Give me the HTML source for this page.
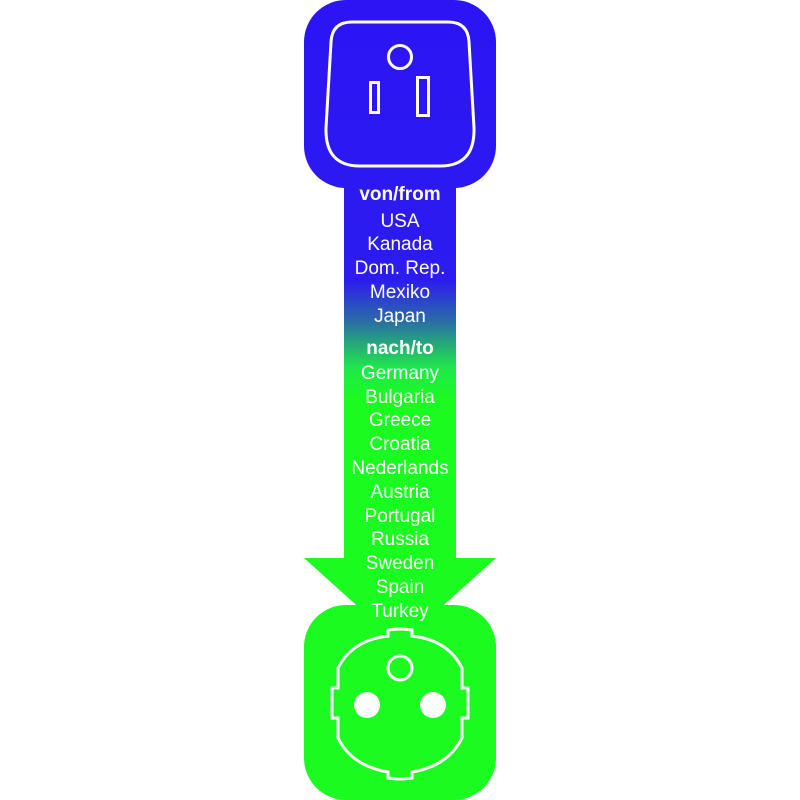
<!DOCTYPE html>
<html><head><meta charset="utf-8"><style>
html,body{margin:0;padding:0;background:#fff;width:800px;height:800px;overflow:hidden}
text{font-family:"Liberation Sans Narrow","Liberation Sans",sans-serif;fill:#fff;font-size:19px}
</style></head><body>
<svg width="800" height="800" viewBox="0 0 800 800" xmlns="http://www.w3.org/2000/svg">
<defs>
<linearGradient id="g" x1="0" y1="0" x2="0" y2="800" gradientUnits="userSpaceOnUse">
<stop offset="0" stop-color="#2c14f4"/>
<stop offset="0.35" stop-color="#2c1cf0"/>
<stop offset="0.40" stop-color="#2a6aa8"/>
<stop offset="0.46" stop-color="#1ee84a"/>
<stop offset="0.5" stop-color="#1afc20"/>
<stop offset="1" stop-color="#1afc20"/>
</linearGradient>
</defs>
<g fill="url(#g)">
<rect x="304" y="0" width="192" height="188" rx="42"/>
<rect x="344" y="150" width="112" height="420"/>
<polygon points="304,558 496,558 436,612 364,612"/>
<rect x="304" y="605" width="192" height="195" rx="42"/>
</g>
<!-- US socket -->
<g fill="none" stroke="#fff" stroke-width="3">
<path d="M352,22 L448,22 Q468,22 469,42 L474,128 Q475,166 440,166 L360,166 Q325,166 326,128 L331,42 Q332,22 352,22 Z"/>
<circle cx="400" cy="57" r="11.5"/>
<rect x="370.5" y="82.5" width="8" height="30"/>
<rect x="417.5" y="77.5" width="11" height="38"/>
</g>
<!-- Schuko socket -->
<g fill="none" stroke="#fff" stroke-width="3">
<path d="M388,636 L388,630 Q400,628 412,630 L412,636 Q448,640 462,668 L462,688 L468,688 L468,718 L462,718 L462,738 Q448,766 412,772 L412,778 Q400,780 388,778 L388,772 Q352,766 338,738 L338,718 L332,718 L332,688 L338,688 L338,668 Q352,640 388,636 Z"/>
<circle cx="400" cy="668" r="12"/>
</g>
<circle cx="367" cy="705" r="13" fill="#fff"/>
<circle cx="433" cy="705" r="13" fill="#fff"/>
<g text-anchor="middle">
<text x="400" y="200" font-weight="bold">von/from</text>
<text x="400" y="227">USA</text>
<text x="400" y="250">Kanada</text>
<text x="400" y="274">Dom. Rep.</text>
<text x="400" y="298">Mexiko</text>
<text x="400" y="322">Japan</text>
<text x="400" y="354" font-weight="bold">nach/to</text>
<text x="400" y="379">Germany</text>
<text x="400" y="403">Bulgaria</text>
<text x="400" y="426">Greece</text>
<text x="400" y="450">Croatia</text>
<text x="400" y="474">Nederlands</text>
<text x="400" y="498">Austria</text>
<text x="400" y="522">Portugal</text>
<text x="400" y="545">Russia</text>
<text x="400" y="569">Sweden</text>
<text x="400" y="593">Spain</text>
<text x="400" y="617">Turkey</text>
</g>
</svg>
</body></html>
